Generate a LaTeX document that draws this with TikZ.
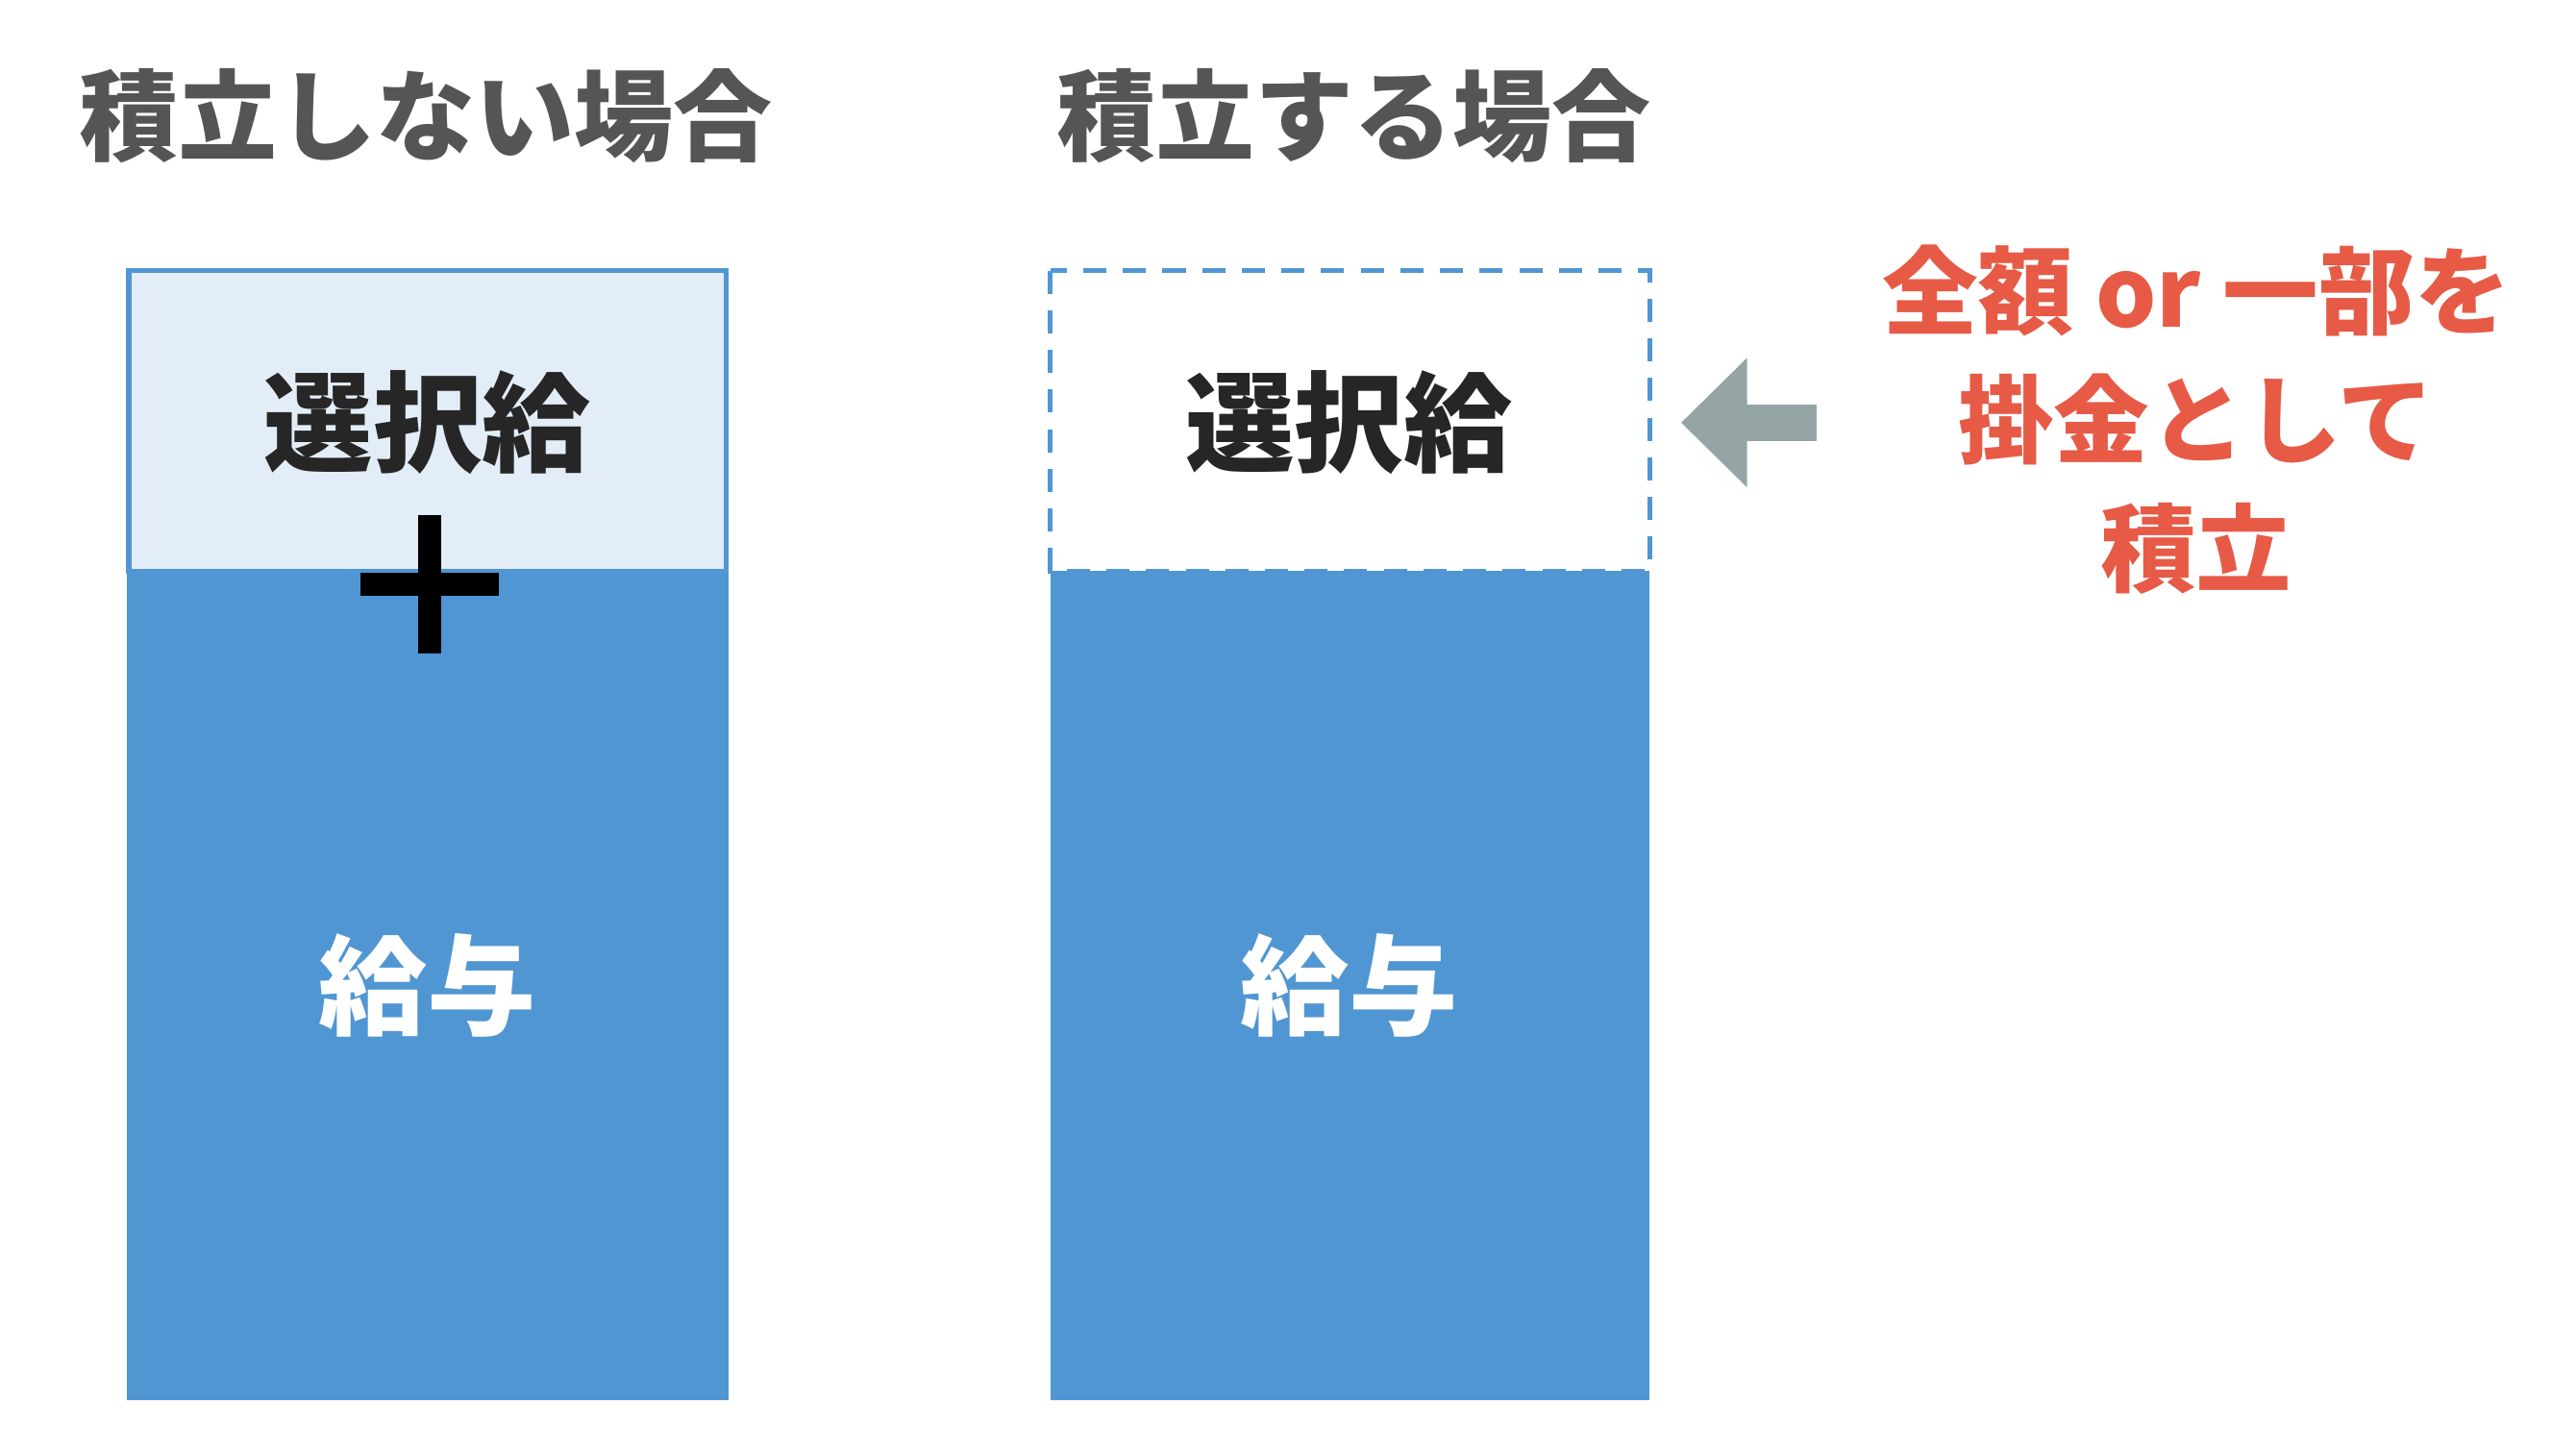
\documentclass[tikz,border=0pt]{standalone}
\usepackage{fontspec}
\newfontfamily\jp{Noto Sans CJK JP}
\usetikzlibrary{arrows.meta, positioning}
\definecolor{salblue}{HTML}{5096D2}
\definecolor{sallight}{HTML}{E3EDF7}
\definecolor{salred}{HTML}{E65A46}
\definecolor{salgrey}{HTML}{95A5A6}
\definecolor{saltitle}{HTML}{555555}
\tikzstyle{title} = [font=\jp\bfseries\fontsize{60}{60}\selectfont, text=saltitle, inner sep=0]
\tikzstyle{label} = [font=\jp\bfseries\fontsize{66}{66}\selectfont, inner sep=0]
\tikzstyle{note} = [font=\jp\bfseries\fontsize{58}{78}\selectfont, text=salred, align=center, inner sep=0]

\begin{document}
\begin{tikzpicture}[x=1pt, y=-1pt]
\useasboundingbox (0,0) rectangle (1560,865);

% Boxes
\fill[salblue] (77,346) rectangle (441,848);
\fill[sallight, draw=salblue, line width=3] (78,164) rectangle (440,346);
\fill[salblue] (636,346) rectangle (999,848);
\draw[salblue, line width=3, dash pattern=on 14 off 10] (636,164) rectangle (999,346);

% Titles
\node (notitle) [title] at (258,70) {積立しない場合};
\node (yestitle) [title] at (820,70) {積立する場合};

% Labels
\node (selleft) [label, text=black!85] at (259,256) {選択給};
\node (selright) [label, text=black!85] at (817,256) {選択給};
\node (payleft) [label, text=white] at (259,597) {給与};
\node (payright) [label, text=white] at (817,597) {給与};

% Plus sign
\node (plus) at (260,354) {};
\draw[black, line width=14] (plus.center) ++(-42,0) -- ++(84,0);
\draw[black, line width=14] (plus.center) ++(0,-42) -- ++(0,84);

% Note and arrow
\node (note) [note] at (1330,254) {全額 or 一部を\\掛金として\\積立};
\coordinate (tail) at (1100,256);
\coordinate (tip) at (1018,256);
\draw[salgrey, line width=22, -{Triangle[length=40, width=76]}] (tail) -- (tip);

\end{tikzpicture}
\end{document}
